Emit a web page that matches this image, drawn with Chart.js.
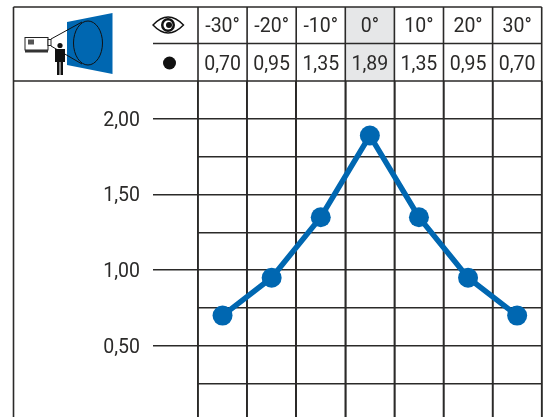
<!DOCTYPE html>
<html><head><meta charset="utf-8">
<style>html,body{margin:0;padding:0;background:#fff}canvas{display:block}</style>
<script src="https://cdn.jsdelivr.net/npm/chart.js@4"></script></head>
<body><canvas id="c" width="545" height="417"></canvas>
<script>
const angleLabels = ['-30°','-20°','-10°','0°','10°','20°','30°'];
const valueLabels = ['0,70','0,95','1,35','1,89','1,35','0,95','0,70'];
const seriesValues = [0.70,0.95,1.35,1.89,1.35,0.95,0.70];
const gridValues = [0.25,0.5,0.75,1,1.25,1.5,1.75,2];
const labelledValues = [0.5,1,1.5,2];
const highlightIndex = 3;
const INK = '#2b2a29', BLUE = '#0067b1', FONT = '400 19.5px Roboto';

function drawIcon(g){
  g.save();
  g.fillStyle = BLUE;
  g.beginPath();g.moveTo(67,22);g.lineTo(112.5,13);g.lineTo(112.5,74);g.lineTo(67,65);g.closePath();g.fill();
  g.strokeStyle='#111';g.lineWidth=1;
  g.beginPath();g.ellipse(88,43,14.5,22,0,0,Math.PI*2);g.stroke();
  g.beginPath();g.moveTo(51,39);g.lineTo(82,22);g.moveTo(51,46);g.lineTo(82,64);g.stroke();
  g.fillStyle='#fff';g.strokeStyle='#222';
  g.fillRect(25,37.5,23,12.5);g.strokeRect(25,37.5,23,12.5);
  g.fillRect(48,39.5,3,6);g.strokeRect(48,39.5,3,6);
  g.fillStyle='#555';g.fillRect(28,39.5,6,5);
  g.fillStyle='#333';g.fillRect(25,50,23,2.5);
  g.fillStyle='#111';
  g.beginPath();g.arc(60,45.5,2.6,0,Math.PI*2);g.fill();
  g.fillRect(55,49,10,13);
  g.fillRect(57,62,2.5,13);g.fillRect(60.5,62,2.5,13);
  g.restore();
  g.save();
  g.strokeStyle='#111';g.lineWidth=1.4;
  g.beginPath();g.moveTo(153,25);g.quadraticCurveTo(168,9,183.5,25);g.quadraticCurveTo(168,41,153,25);g.closePath();g.stroke();
  g.fillStyle='#111';g.beginPath();g.arc(168,25,7,0,Math.PI*2);g.fill();
  g.fillStyle='#fff';g.beginPath();g.arc(168,25,4.5,0,Math.PI*2);g.fill();
  g.fillStyle='#111';g.beginPath();g.arc(169,25,3,0,Math.PI*2);g.fill();
  g.beginPath();g.arc(169.5,63,6.5,0,Math.PI*2);g.fill();
  g.restore();
}

const headerTable = {
  id:'headerTable',
  beforeDatasetsDraw(chart){
    const g = chart.ctx, x = chart.scales.x, top = 7, mid = 43.5, bottom = chart.chartArea.top;
    const half = (x.getPixelForValue(1)-x.getPixelForValue(0))/2;
    const c = x.getPixelForValue(highlightIndex);
    g.save();
    g.fillStyle='#e6e7e8';
    g.fillRect(c-half,top,half*2,bottom-top);
    g.strokeStyle=INK;g.lineWidth=1.6;
    g.beginPath();
    g.moveTo(13.5,top);g.lineTo(chart.chartArea.right,top);
    g.moveTo(13.5,top);g.lineTo(13.5,chart.height);
    g.moveTo(13.5,bottom);g.lineTo(chart.chartArea.right,bottom);
    g.moveTo(153,mid);g.lineTo(chart.chartArea.right,mid);
    for(let i=0;i<=angleLabels.length;i++){
      const px=x.getPixelForValue(0)-half+i*half*2;
      g.moveTo(px,top);g.lineTo(px,chart.height);
    }
    g.stroke();
    g.fillStyle=INK;g.font=FONT;g.textAlign='center';g.textBaseline='middle';
    angleLabels.forEach((t,i)=>g.fillText(t,x.getPixelForValue(i),27));
    valueLabels.forEach((t,i)=>g.fillText(t,x.getPixelForValue(i),65));
    g.restore();
    drawIcon(g);
  }
};

new Chart(document.getElementById('c'),{
  type:'line',
  data:{labels:angleLabels,datasets:[{data:seriesValues,borderColor:BLUE,backgroundColor:BLUE,
    borderWidth:5.5,pointRadius:10,pointHoverRadius:10,pointBorderWidth:0,tension:0}]},
  plugins:[headerTable],
  options:{
    responsive:false,animation:false,events:[],
    layout:{autoPadding:false,padding:{top:81,right:3.3,bottom:0,left:0}},
    plugins:{legend:{display:false},tooltip:{enabled:false}},
    scales:{
      x:{offset:true,position:'bottom',
        afterFit(s){s.height=0;s.paddingLeft=s.paddingRight=0;},
        border:{display:false},
        grid:{offset:true,color:INK,lineWidth:1.6,drawTicks:false},
        ticks:{display:false}},
      y:{min:0.03,max:2.25,
        afterFit(s){s.width=198;s.paddingTop=s.paddingBottom=0;},
        afterBuildTicks(s){s.ticks=gridValues.map(v=>({value:v}));},
        border:{display:false},
        grid:{color:INK,lineWidth:1.6,tickLength:45,
          tickColor:c=>labelledValues.includes(c.tick&&c.tick.value)?INK:'rgba(0,0,0,0)',tickWidth:1.6},
        ticks:{padding:13,labelOffset:2,color:INK,font:{family:'Roboto',size:19.5,weight:400},autoSkip:false,
          callback:v=>labelledValues.includes(v)?v.toFixed(2).replace('.',','):''}}
    }
  }
});
</script></body></html>
